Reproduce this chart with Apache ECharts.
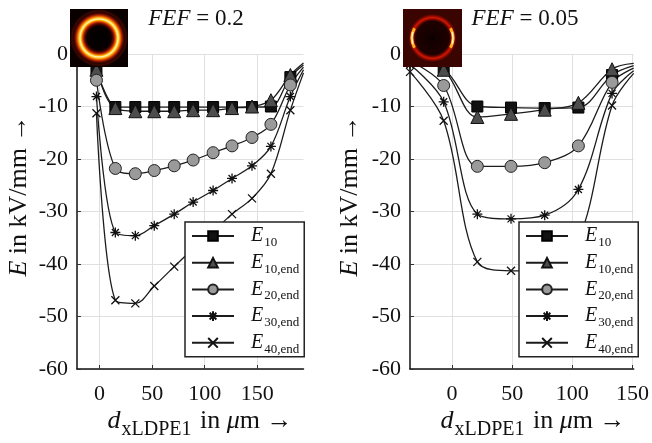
<!DOCTYPE html>
<html>
<head>
<meta charset="utf-8">
<script src="https://cdn.jsdelivr.net/npm/echarts@6/dist/echarts.min.js"></script>
<style>
html,body{margin:0;padding:0;background:#fff;}
#c{width:652px;height:443px;}
</style>
</head>
<body>
<div id="c"></div>
<script>
// ---- data ----
const seriesNames = ['E10', 'E10,end', 'E20,end', 'E30,end', 'E40,end'];

// left panel, FEF = 0.2
const xLeft      = [-3, 15, 34, 52, 71, 89, 108, 126, 145, 163, 181.5];
const leftE10    = [-2.8, -10.1, -10.1, -10.1, -10.1, -10.1, -10.1, -10.1, -10.1, -10.0, -4.4];
const leftE10end = [-3.0, -10.3, -10.9, -10.9, -10.9, -10.7, -10.7, -10.3, -10.0, -8.8, -4.0];
const leftE20end = [-5.0, -21.8, -22.8, -22.2, -21.3, -20.2, -18.8, -17.5, -15.9, -13.4, -5.9];
const leftE30end = [-8.1, -34.0, -34.6, -32.7, -30.5, -28.2, -26.0, -23.7, -21.3, -17.6, -8.1];
const leftE40end = [-11.3, -46.9, -47.5, -44.2, -40.5, -37.1, -33.8, -30.5, -27.5, -22.8, -10.7];
const xLeftEdge  = 194;                              // curves continue to the plot edge (no marker)
const leftEdge   = [-2.1, -1.7, -2.5, -3.0, -3.6];

// right panel, FEF = 0.05
const xRight      = [-35, -7, 21, 49, 77, 105, 133];
const rightE10    = [-0.6, -2.8, -10.0, -10.2, -10.3, -10.2, -4.0];
const rightE10end = [-0.8, -3.0, -12.0, -11.4, -10.6, -9.3, -2.9];
const rightE20end = [-1.3, -6.0, -21.4, -21.4, -20.7, -17.5, -5.4];
const rightE30end = [-2.0, -9.1, -30.5, -31.4, -30.7, -25.8, -7.5];
const rightE40end = [-3.4, -12.7, -39.6, -41.3, -40.5, -35.5, -9.8];
const xRightEdge  = 151;
const rightEdge   = [-2.2, -1.8, -2.7, -3.2, -3.7];

const yTicks = [-60, -50, -40, -30, -20, -10, 0];
const panelTitles = ['0.2', '0.05'];

// ---- styles ----
const SERIF = '"Liberation Serif", "DejaVu Serif", serif';
const LINE = '#1c1c1c';
const asterisk = 'path://M0,-10L0,10M-10,0L10,0M-7,-7L7,7M-7,7L7,-7';
const cross = 'path://M-7,-7L7,7M-7,7L7,-7';
const markerStyles = [
  {symbol: 'rect', symbolSize: 11, itemStyle: {color: '#111', borderColor: '#000', borderWidth: 1}},
  {symbol: 'triangle', symbolSize: 13, itemStyle: {color: '#4d4d4d', borderColor: '#111', borderWidth: 1}},
  {symbol: 'circle', symbolSize: 12, itemStyle: {color: '#9a9a9a', borderColor: '#222', borderWidth: 1}},
  {symbol: asterisk, symbolSize: 10, itemStyle: {color: '#111', borderColor: '#111', borderWidth: 1.3}},
  {symbol: cross, symbolSize: 8, itemStyle: {color: '#111', borderColor: '#111', borderWidth: 1.3}}
];

const panels = [
  {x: xLeft, ys: [leftE10, leftE10end, leftE20end, leftE30end, leftE40end], xe: xLeftEdge, edge: leftEdge},
  {x: xRight, ys: [rightE10, rightE10end, rightE20end, rightE30end, rightE40end], xe: xRightEdge, edge: rightEdge}
];

const series = [];
panels.forEach((p, pi) => {
  p.ys.forEach((ys, si) => {
    const data = p.x.map((x, i) => [x, ys[i]]);
    data.push({value: [p.xe, p.edge[si]], symbol: 'none'});
    series.push(Object.assign({
      type: 'line', name: seriesNames[si], xAxisIndex: pi, yAxisIndex: pi,
      smooth: 0.35, showSymbol: true, showAllSymbol: true,
      lineStyle: {color: LINE, width: 1.3},
      emphasis: {disabled: true},
      data: data
    }, markerStyles[si]));
  });
});

function xAxisCfg(gi, min, max) {
  return {
    gridIndex: gi, type: 'value', min: min, max: max, splitNumber: 4,
    axisLine: {show: true, onZero: false, lineStyle: {color: '#111', width: 1.5}},
    axisTick: {show: true, inside: true, length: 4, lineStyle: {color: '#333'}},
    axisLabel: {fontFamily: SERIF, fontSize: 22, color: '#111', margin: 14, showMinLabel: false, showMaxLabel: false},
    splitLine: {show: true, showMinLine: false, showMaxLine: false, lineStyle: {color: '#e0e0e0', width: 1}}
  };
}
function yAxisCfg(gi) {
  return {
    gridIndex: gi, type: 'value', min: yTicks[0], max: yTicks[yTicks.length - 1], interval: 10,
    axisLine: {show: true, onZero: false, lineStyle: {color: '#111', width: 1.5}},
    axisTick: {show: true, inside: true, length: 4, lineStyle: {color: '#333'}},
    axisLabel: {fontFamily: SERIF, fontSize: 22, color: '#111', margin: 9},
    splitLine: {show: true, lineStyle: {color: '#e0e0e0', width: 1}}
  };
}

const legendRich = {
  e: {fontFamily: SERIF, fontStyle: 'italic', fontSize: 20, color: '#111', lineHeight: 20, padding: [0, 0, 0, 12]},
  s: {fontFamily: SERIF, fontSize: 13, color: '#111', lineHeight: 13, padding: [13, 0, 0, 1]}
};
function legendCfg(left) {
  return {
    data: seriesNames, orient: 'vertical', left: left, top: 222,
    padding: [1, 5, 1, 6], itemGap: 0.7, itemWidth: 42, itemHeight: 12,
    backgroundColor: '#fff', borderColor: '#222', borderWidth: 1.5, borderRadius: 0,
    selectedMode: false,
    formatter: n => '{e|E}{s|' + n.slice(1) + '}',
    textStyle: {rich: legendRich}
  };
}

function titleText(cx, val) {
  return {
    type: 'text', x: cx, y: 19, z: 100,
    style: {
      text: '{i|FEF}{n| = ' + val + '}', align: 'center', verticalAlign: 'middle', fill: '#111',
      rich: {
        i: {fontFamily: SERIF, fontStyle: 'italic', fontSize: 23, fill: '#111'},
        n: {fontFamily: SERIF, fontSize: 23, fill: '#111'}
      }
    }
  };
}
function xTitle(cx) {
  return {
    type: 'text', x: cx, y: 421, z: 100,
    style: {
      text: '{d|d}{s|xLDPE1}{n| in }{m|μ}{n|m →}', align: 'center', verticalAlign: 'middle',
      rich: {
        d: {fontFamily: SERIF, fontStyle: 'italic', fontSize: 26, fill: '#111', lineHeight: 26},
        s: {fontFamily: SERIF, fontSize: 20, fill: '#111', lineHeight: 20, padding: [18, 2, 0, 1]},
        n: {fontFamily: SERIF, fontSize: 26, fill: '#111', lineHeight: 26},
        m: {fontFamily: SERIF, fontStyle: 'italic', fontSize: 26, fill: '#111', lineHeight: 26}
      }
    }
  };
}
function yTitle(cx) {
  return {
    type: 'text', x: cx, y: 196, rotation: Math.PI / 2, z: 100,
    style: {
      text: '{e|E}{n| in kV/mm →}', align: 'center', verticalAlign: 'middle',
      rich: {
        e: {fontFamily: SERIF, fontStyle: 'italic', fontSize: 26, fill: '#111'},
        n: {fontFamily: SERIF, fontSize: 26, fill: '#111'}
      }
    }
  };
}

// decorative field-image insets
function ringImageLeft() {
  return [
    {type: 'rect', z: 100, shape: {x: 70, y: 9, width: 58, height: 58}, style: {fill: '#0b0000'}},
    {type: 'circle', z: 101, shape: {cx: 99, cy: 38, r: 29}, style: {fill: {
      type: 'radial', x: 0.5, y: 0.5, r: 0.5, colorStops: [
        {offset: 0, color: '#000'}, {offset: 0.42, color: '#0a0000'}, {offset: 0.5, color: '#6a0a00'},
        {offset: 0.56, color: '#d83c00'}, {offset: 0.61, color: '#ffb400'}, {offset: 0.65, color: '#fff7c0'},
        {offset: 0.69, color: '#ffd030'}, {offset: 0.74, color: '#f06a00'}, {offset: 0.8, color: '#9a1800'},
        {offset: 0.87, color: '#2a0300'}, {offset: 0.93, color: '#3a0800'}, {offset: 1, color: '#0b0000'}
      ]}}}
  ];
}
function ringImageRight() {
  return [
    {type: 'rect', z: 100, shape: {x: 403, y: 9, width: 59, height: 58}, style: {fill: '#3a0500'}},
    {type: 'circle', z: 101, shape: {cx: 432.5, cy: 38, r: 24}, style: {fill: {
      type: 'radial', x: 0.5, y: 0.5, r: 0.5, colorStops: [
        {offset: 0, color: '#000'}, {offset: 0.1, color: '#120000'}, {offset: 0.7, color: '#1e0100'},
        {offset: 0.78, color: '#7a0800'}, {offset: 0.85, color: '#d41800'}, {offset: 0.92, color: '#8a0800'},
        {offset: 1, color: '#3a0500'}
      ]}}},
    {type: 'arc', z: 102, shape: {cx: 432.5, cy: 38, r: 20.5, startAngle: Math.PI - 0.5, endAngle: Math.PI + 0.5},
      style: {stroke: '#ffb020', lineWidth: 3, fill: null}},
    {type: 'arc', z: 102, shape: {cx: 432.5, cy: 38, r: 20.5, startAngle: -0.5, endAngle: 0.5},
      style: {stroke: '#ffb020', lineWidth: 3, fill: null}},
    {type: 'arc', z: 103, shape: {cx: 432.5, cy: 38, r: 20.5, startAngle: Math.PI - 0.3, endAngle: Math.PI + 0.3},
      style: {stroke: '#fff8d0', lineWidth: 1.2, fill: null}},
    {type: 'arc', z: 103, shape: {cx: 432.5, cy: 38, r: 20.5, startAngle: -0.3, endAngle: 0.3},
      style: {stroke: '#fff8d0', lineWidth: 1.2, fill: null}}
  ];
}

const chart = echarts.init(document.getElementById('c'), null, {renderer: 'canvas'});
chart.setOption({
  animation: false,
  backgroundColor: '#fff',
  grid: [
    {left: 77, top: 54, width: 226.5, height: 315},
    {left: 410, top: 54, width: 224, height: 315}
  ],
  xAxis: [xAxisCfg(0, -21.5, xLeftEdge), xAxisCfg(1, -35, xRightEdge)],
  yAxis: [yAxisCfg(0), yAxisCfg(1)],
  legend: [legendCfg(185), legendCfg(519)],
  graphic: [
    titleText(196, panelTitles[0]), titleText(525, panelTitles[1]),
    xTitle(200), xTitle(533), yTitle(19), yTitle(350)
  ].concat(ringImageLeft(), ringImageRight()),
  series: series
});
</script>
</body>
</html>
